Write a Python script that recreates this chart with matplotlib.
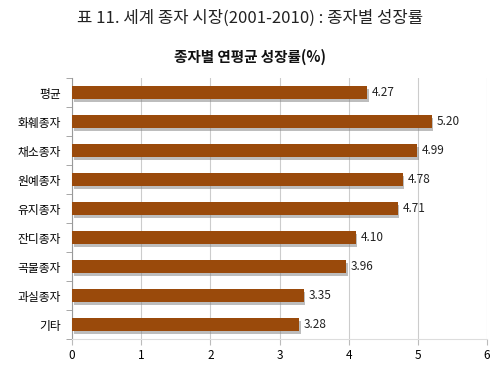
import matplotlib
matplotlib.use("Agg")
import matplotlib.pyplot as plt
import matplotlib.patheffects as pe

plt.rcParams['font.family'] = ['Noto Sans CJK KR', 'DejaVu Sans']

# 데이터
categories = ["평균", "화훼종자", "채소종자", "원예종자", "유지종자",
              "잔디종자", "곡물종자", "과실종자", "기타"]
growth = [4.27, 5.20, 4.99, 4.78, 4.71, 4.10, 3.96, 3.35, 3.28]
xticks = [0, 1, 2, 3, 4, 5, 6]

fig = plt.figure(figsize=(5.0, 3.67), dpi=100)
ax = fig.add_axes([0.144, 0.076, 0.830, 0.711])

ypos = list(range(len(categories)))
bars = ax.barh(ypos, growth, height=0.43, color='#9a4a0b', zorder=3,
               path_effects=[pe.SimplePatchShadow(offset=(1.2, -2), shadow_rgbFace='#888888', alpha=0.55),
                             pe.Normal()])

for y, v in zip(ypos, growth):
    ax.text(v + 0.07, y, f"{v:.2f}", va='center', ha='left', fontsize=8.5, color='#222222')

ax.set_ylim(len(categories) - 0.5, -0.5)
ax.set_xlim(0, 6)
ax.set_xticks(xticks)
ax.set_xticklabels([str(t) for t in xticks], fontsize=8.5)
ax.set_yticks(ypos)
ax.set_yticklabels(categories, fontsize=8.5)
ax.tick_params(axis='y', length=0, pad=8)
ax.set_yticks([i - 0.5 for i in range(len(categories) + 1)], minor=True)
ax.tick_params(axis='y', which='minor', length=4, color='#999999')
ax.tick_params(axis='x', length=4, color='#bbbbbb', pad=3)

ax.grid(axis='x', color='#cccccc', linewidth=0.8, zorder=0)
for s in ['top', 'right']:
    ax.spines[s].set_visible(False)
ax.spines['bottom'].set_color('#dddddd')
ax.spines['left'].set_color('#999999')

fig.text(0.5, 0.95, "표 11. 세계 종자 시장(2001-2010) : 종자별 성장률", ha='center', va='center',
         fontsize=12, color='#222222')
fig.text(0.5, 0.845, "종자별 연평균 성장률(%)", ha='center', va='center',
         fontsize=10.5, fontweight='bold', color='#111111')

fig.savefig("out.png", dpi=100)
